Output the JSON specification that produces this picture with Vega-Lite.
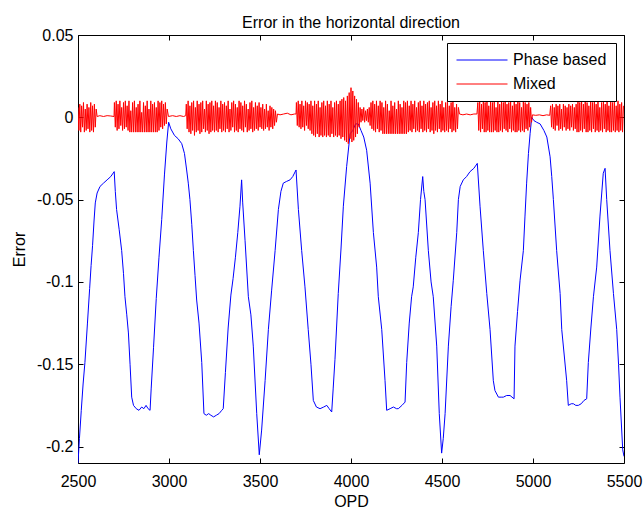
{
  "$schema": "https://vega.github.io/schema/vega-lite/v6.json",
  "width": 546,
  "height": 428,
  "autosize": {"type": "none"},
  "padding": {"left": 78, "top": 35, "right": 20, "bottom": 45},
  "background": "white",
  "title": {"text": "Error in the horizontal direction", "font": "Liberation Sans", "fontSize": 16, "fontWeight": "normal", "color": "black", "offset": -4},
  "config": {
    "font": "Liberation Sans",
    "view": {"stroke": "black", "strokeWidth": 1},
    "axis": {"grid": false, "domain": false, "tickColor": "black", "tickSize": -5, "tickWidth": 1, "labelColor": "black", "labelFont": "Liberation Sans", "labelFontSize": 16, "titleFont": "Liberation Sans", "titleFontSize": 16, "titleFontWeight": "normal", "titleColor": "black", "labelPadding": 10}
  },
  "datasets": {
    "phase": [
      {"opd":2500,"err":-0.21},{"opd":2508,"err":-0.195},{"opd":2518,"err":-0.178},{"opd":2528,"err":-0.162},{"opd":2538,"err":-0.149},{"opd":2552,"err":-0.125},{"opd":2564,"err":-0.104},{"opd":2572,"err":-0.09},{"opd":2580,"err":-0.078},{"opd":2588,"err":-0.063},{"opd":2595,"err":-0.052},{"opd":2605,"err":-0.046},{"opd":2621,"err":-0.042},{"opd":2640,"err":-0.04},{"opd":2660,"err":-0.038},{"opd":2680,"err":-0.036},{"opd":2699,"err":-0.033},{"opd":2705,"err":-0.045},{"opd":2712,"err":-0.056},{"opd":2726,"err":-0.068},{"opd":2740,"err":-0.081},{"opd":2750,"err":-0.095},{"opd":2758,"err":-0.109},{"opd":2768,"err":-0.12},{"opd":2777,"err":-0.131},{"opd":2786,"err":-0.15},{"opd":2795,"err":-0.17},{"opd":2805,"err":-0.175},{"opd":2820,"err":-0.177},{"opd":2835,"err":-0.178},{"opd":2850,"err":-0.176},{"opd":2862,"err":-0.177},{"opd":2874,"err":-0.175},{"opd":2885,"err":-0.177},{"opd":2896,"err":-0.178},{"opd":2902,"err":-0.165},{"opd":2915,"err":-0.14},{"opd":2930,"err":-0.11},{"opd":2945,"err":-0.085},{"opd":2960,"err":-0.062},{"opd":2975,"err":-0.035},{"opd":2988,"err":-0.015},{"opd":2998,"err":-0.003},{"opd":3010,"err":-0.007},{"opd":3030,"err":-0.011},{"opd":3050,"err":-0.013},{"opd":3070,"err":-0.016},{"opd":3085,"err":-0.022},{"opd":3097,"err":-0.032},{"opd":3106,"err":-0.04},{"opd":3115,"err":-0.05},{"opd":3125,"err":-0.065},{"opd":3134,"err":-0.081},{"opd":3143,"err":-0.096},{"opd":3152,"err":-0.111},{"opd":3165,"err":-0.125},{"opd":3180,"err":-0.149},{"opd":3192,"err":-0.18},{"opd":3205,"err":-0.181},{"opd":3218,"err":-0.18},{"opd":3230,"err":-0.181},{"opd":3245,"err":-0.182},{"opd":3260,"err":-0.181},{"opd":3275,"err":-0.18},{"opd":3290,"err":-0.178},{"opd":3298,"err":-0.177},{"opd":3310,"err":-0.155},{"opd":3325,"err":-0.128},{"opd":3340,"err":-0.108},{"opd":3352,"err":-0.098},{"opd":3365,"err":-0.085},{"opd":3378,"err":-0.07},{"opd":3390,"err":-0.054},{"opd":3399,"err":-0.038},{"opd":3405,"err":-0.052},{"opd":3418,"err":-0.075},{"opd":3436,"err":-0.109},{"opd":3450,"err":-0.12},{"opd":3463,"err":-0.139},{"opd":3482,"err":-0.18},{"opd":3496,"err":-0.205},{"opd":3509,"err":-0.19},{"opd":3528,"err":-0.16},{"opd":3546,"err":-0.129},{"opd":3564,"err":-0.105},{"opd":3583,"err":-0.081},{"opd":3601,"err":-0.056},{"opd":3615,"err":-0.045},{"opd":3628,"err":-0.04},{"opd":3645,"err":-0.039},{"opd":3665,"err":-0.038},{"opd":3680,"err":-0.036},{"opd":3698,"err":-0.032},{"opd":3711,"err":-0.056},{"opd":3729,"err":-0.081},{"opd":3747,"err":-0.103},{"opd":3765,"err":-0.129},{"opd":3780,"err":-0.15},{"opd":3793,"err":-0.172},{"opd":3810,"err":-0.176},{"opd":3830,"err":-0.177},{"opd":3850,"err":-0.176},{"opd":3867,"err":-0.175},{"opd":3880,"err":-0.177},{"opd":3894,"err":-0.179},{"opd":3902,"err":-0.165},{"opd":3912,"err":-0.147},{"opd":3930,"err":-0.107},{"opd":3945,"err":-0.08},{"opd":3958,"err":-0.054},{"opd":3976,"err":-0.03},{"opd":3995,"err":-0.01},{"opd":4010,"err":-0.008},{"opd":4025,"err":-0.004},{"opd":4040,"err":-0.004},{"opd":4055,"err":-0.008},{"opd":4070,"err":-0.012},{"opd":4086,"err":-0.02},{"opd":4105,"err":-0.04},{"opd":4123,"err":-0.07},{"opd":4141,"err":-0.091},{"opd":4150,"err":-0.109},{"opd":4169,"err":-0.129},{"opd":4187,"err":-0.16},{"opd":4196,"err":-0.178},{"opd":4215,"err":-0.177},{"opd":4233,"err":-0.176},{"opd":4250,"err":-0.177},{"opd":4260,"err":-0.177},{"opd":4280,"err":-0.175},{"opd":4297,"err":-0.173},{"opd":4306,"err":-0.149},{"opd":4320,"err":-0.125},{"opd":4333,"err":-0.109},{"opd":4342,"err":-0.103},{"opd":4356,"err":-0.085},{"opd":4370,"err":-0.07},{"opd":4382,"err":-0.05},{"opd":4394,"err":-0.036},{"opd":4400,"err":-0.045},{"opd":4407,"err":-0.05},{"opd":4425,"err":-0.081},{"opd":4440,"err":-0.1},{"opd":4452,"err":-0.109},{"opd":4471,"err":-0.139},{"opd":4485,"err":-0.18},{"opd":4498,"err":-0.204},{"opd":4507,"err":-0.195},{"opd":4517,"err":-0.18},{"opd":4535,"err":-0.139},{"opd":4550,"err":-0.115},{"opd":4562,"err":-0.099},{"opd":4581,"err":-0.07},{"opd":4590,"err":-0.05},{"opd":4600,"err":-0.042},{"opd":4617,"err":-0.038},{"opd":4635,"err":-0.036},{"opd":4654,"err":-0.033},{"opd":4675,"err":-0.031},{"opd":4694,"err":-0.028},{"opd":4709,"err":-0.054},{"opd":4727,"err":-0.081},{"opd":4746,"err":-0.107},{"opd":4764,"err":-0.129},{"opd":4782,"err":-0.16},{"opd":4791,"err":-0.166},{"opd":4810,"err":-0.17},{"opd":4825,"err":-0.17},{"opd":4837,"err":-0.17},{"opd":4855,"err":-0.169},{"opd":4874,"err":-0.169},{"opd":4896,"err":-0.171},{"opd":4901,"err":-0.139},{"opd":4915,"err":-0.118},{"opd":4929,"err":-0.099},{"opd":4947,"err":-0.081},{"opd":4956,"err":-0.06},{"opd":4965,"err":-0.04},{"opd":4975,"err":-0.022},{"opd":4984,"err":-0.01},{"opd":4993,"err":0.0},{"opd":5005,"err":-0.002},{"opd":5020,"err":-0.003},{"opd":5039,"err":-0.004},{"opd":5060,"err":-0.008},{"opd":5076,"err":-0.012},{"opd":5094,"err":-0.024},{"opd":5103,"err":-0.036},{"opd":5112,"err":-0.05},{"opd":5130,"err":-0.081},{"opd":5149,"err":-0.107},{"opd":5158,"err":-0.129},{"opd":5172,"err":-0.145},{"opd":5185,"err":-0.16},{"opd":5194,"err":-0.175},{"opd":5210,"err":-0.174},{"opd":5222,"err":-0.174},{"opd":5235,"err":-0.175},{"opd":5249,"err":-0.175},{"opd":5265,"err":-0.174},{"opd":5280,"err":-0.172},{"opd":5295,"err":-0.171},{"opd":5304,"err":-0.149},{"opd":5318,"err":-0.128},{"opd":5332,"err":-0.109},{"opd":5350,"err":-0.091},{"opd":5368,"err":-0.06},{"opd":5386,"err":-0.034},{"opd":5396,"err":-0.031},{"opd":5405,"err":-0.05},{"opd":5423,"err":-0.081},{"opd":5442,"err":-0.107},{"opd":5460,"err":-0.129},{"opd":5470,"err":-0.15},{"opd":5478,"err":-0.17},{"opd":5493,"err":-0.202},{"opd":5500,"err":-0.206}
    ],
    "mixed": [
      {"opd":2500,"err":0.006},{"opd":2505,"err":-0.008},{"opd":2510,"err":0.008},{"opd":2515,"err":-0.009},{"opd":2520,"err":0.007},{"opd":2525,"err":-0.006},{"opd":2530,"err":0.009},{"opd":2535,"err":-0.009},{"opd":2540,"err":0.005},{"opd":2545,"err":-0.008},{"opd":2550,"err":0.008},{"opd":2555,"err":-0.007},{"opd":2560,"err":0.006},{"opd":2565,"err":-0.009},{"opd":2570,"err":0.009},{"opd":2575,"err":-0.008},{"opd":2580,"err":0.007},{"opd":2585,"err":-0.009},{"opd":2590,"err":0.008},{"opd":2595,"err":-0.006},{"opd":2600,"err":0.005},
      {"opd":2605,"err":0.0005},{"opd":2620,"err":0.001},{"opd":2640,"err":0.0005},{"opd":2660,"err":0.001},{"opd":2680,"err":0.0008},{"opd":2698,"err":0.0005},
      {"opd":2700,"err":0.009},{"opd":2705,"err":-0.006},{"opd":2710,"err":0.01},{"opd":2715,"err":-0.008},{"opd":2720,"err":0.008},{"opd":2725,"err":-0.007},{"opd":2730,"err":0.01},{"opd":2735,"err":-0.005},{"opd":2740,"err":0.006},{"opd":2745,"err":-0.008},{"opd":2750,"err":0.009},{"opd":2755,"err":-0.007},{"opd":2760,"err":0.01},{"opd":2765,"err":-0.006},{"opd":2770,"err":0.007},{"opd":2775,"err":-0.008},{"opd":2780,"err":0.01},{"opd":2785,"err":-0.009},{"opd":2790,"err":0.004},{"opd":2795,"err":-0.009},{"opd":2800,"err":0.009},{"opd":2805,"err":-0.009},{"opd":2810,"err":0.01},{"opd":2815,"err":-0.009},{"opd":2820,"err":0.006},{"opd":2825,"err":-0.009},{"opd":2830,"err":0.008},{"opd":2835,"err":-0.009},{"opd":2840,"err":0.01},{"opd":2845,"err":-0.009},{"opd":2850,"err":0.003},{"opd":2855,"err":-0.009},{"opd":2860,"err":0.009},{"opd":2865,"err":-0.009},{"opd":2870,"err":0.007},{"opd":2875,"err":-0.009},{"opd":2880,"err":0.01},{"opd":2885,"err":-0.009},{"opd":2890,"err":0.005},{"opd":2895,"err":-0.009},{"opd":2900,"err":0.01},{"opd":2905,"err":-0.009},{"opd":2910,"err":0.008},{"opd":2915,"err":-0.009},{"opd":2920,"err":0.009},{"opd":2925,"err":-0.009},{"opd":2930,"err":0.006},{"opd":2935,"err":-0.009},{"opd":2940,"err":0.01},{"opd":2945,"err":-0.008},{"opd":2950,"err":0.009},{"opd":2955,"err":-0.006},{"opd":2960,"err":0.01},{"opd":2965,"err":-0.007},{"opd":2970,"err":0.008},{"opd":2975,"err":-0.005},{"opd":2980,"err":0.009},{"opd":2985,"err":-0.004},{"opd":2990,"err":0.005},
      {"opd":2997,"err":0.0005},{"opd":3020,"err":0.001},{"opd":3040,"err":0.0005},{"opd":3060,"err":0.001},{"opd":3080,"err":0.0005},{"opd":3092,"err":0.001},
      {"opd":3095,"err":0.008},{"opd":3100,"err":-0.007},{"opd":3105,"err":0.01},{"opd":3110,"err":-0.009},{"opd":3115,"err":0.007},{"opd":3120,"err":-0.01},{"opd":3125,"err":0.009},{"opd":3130,"err":-0.008},{"opd":3135,"err":0.01},{"opd":3140,"err":-0.011},{"opd":3145,"err":0.006},{"opd":3150,"err":-0.009},{"opd":3155,"err":0.01},{"opd":3160,"err":-0.008},{"opd":3165,"err":0.008},{"opd":3170,"err":-0.01},{"opd":3175,"err":0.009},{"opd":3180,"err":-0.009},{"opd":3185,"err":0.01},{"opd":3190,"err":-0.007},{"opd":3195,"err":0.005},{"opd":3200,"err":-0.009},{"opd":3205,"err":0.01},{"opd":3210,"err":-0.008},{"opd":3215,"err":0.008},{"opd":3220,"err":-0.01},{"opd":3225,"err":0.009},{"opd":3230,"err":-0.009},{"opd":3235,"err":0.01},{"opd":3240,"err":-0.008},{"opd":3245,"err":0.007},{"opd":3250,"err":-0.009},{"opd":3255,"err":0.01},{"opd":3260,"err":-0.008},{"opd":3265,"err":0.009},{"opd":3270,"err":-0.009},{"opd":3275,"err":0.006},{"opd":3280,"err":-0.007},{"opd":3285,"err":0.01},{"opd":3290,"err":-0.009},{"opd":3295,"err":0.008},{"opd":3300,"err":-0.008},{"opd":3305,"err":0.009},{"opd":3310,"err":-0.009},{"opd":3315,"err":0.007},{"opd":3320,"err":-0.007},{"opd":3325,"err":0.01},{"opd":3330,"err":-0.009},{"opd":3335,"err":0.005},{"opd":3340,"err":-0.008},{"opd":3345,"err":0.009},{"opd":3350,"err":-0.006},{"opd":3355,"err":0.01},{"opd":3360,"err":-0.009},{"opd":3365,"err":0.008},{"opd":3370,"err":-0.008},{"opd":3375,"err":0.006},{"opd":3380,"err":-0.009},{"opd":3385,"err":0.01},{"opd":3390,"err":-0.007},{"opd":3395,"err":0.009},{"opd":3400,"err":-0.008},{"opd":3405,"err":0.007},{"opd":3410,"err":-0.009},{"opd":3415,"err":0.01},{"opd":3420,"err":-0.006},{"opd":3425,"err":0.008},{"opd":3430,"err":-0.009},{"opd":3435,"err":0.005},{"opd":3440,"err":-0.008},{"opd":3445,"err":0.009},{"opd":3450,"err":-0.007},{"opd":3455,"err":0.01},{"opd":3460,"err":-0.009},{"opd":3465,"err":0.006},{"opd":3470,"err":-0.008},{"opd":3475,"err":0.009},{"opd":3480,"err":-0.007},{"opd":3485,"err":0.007},{"opd":3490,"err":-0.008},{"opd":3495,"err":0.009},{"opd":3500,"err":-0.006},{"opd":3505,"err":0.006},{"opd":3510,"err":-0.007},{"opd":3515,"err":0.008},{"opd":3520,"err":-0.008},{"opd":3525,"err":0.005},{"opd":3530,"err":-0.007},{"opd":3535,"err":0.008},{"opd":3540,"err":-0.006},{"opd":3545,"err":0.004},{"opd":3550,"err":-0.008},{"opd":3555,"err":0.007},{"opd":3560,"err":-0.006},{"opd":3565,"err":0.006},{"opd":3570,"err":-0.007},{"opd":3575,"err":0.005},{"opd":3580,"err":-0.005},{"opd":3585,"err":0.004},{"opd":3590,"err":-0.003},
      {"opd":3596,"err":0.002},{"opd":3610,"err":0.0015},{"opd":3630,"err":0.002},{"opd":3650,"err":0.0025},{"opd":3670,"err":0.0015},{"opd":3690,"err":0.002},{"opd":3698,"err":0.002},
      {"opd":3700,"err":0.009},{"opd":3705,"err":-0.005},{"opd":3710,"err":0.01},{"opd":3715,"err":-0.006},{"opd":3720,"err":0.008},{"opd":3725,"err":-0.007},{"opd":3730,"err":0.01},{"opd":3735,"err":-0.006},{"opd":3740,"err":0.007},{"opd":3745,"err":-0.008},{"opd":3750,"err":0.01},{"opd":3755,"err":-0.005},{"opd":3760,"err":0.009},{"opd":3765,"err":-0.007},{"opd":3770,"err":0.008},{"opd":3775,"err":-0.008},{"opd":3780,"err":0.01},{"opd":3785,"err":-0.01},{"opd":3790,"err":0.007},{"opd":3795,"err":-0.011},{"opd":3800,"err":0.01},{"opd":3805,"err":-0.012},{"opd":3810,"err":0.008},{"opd":3815,"err":-0.01},{"opd":3820,"err":0.01},{"opd":3825,"err":-0.012},{"opd":3830,"err":0.006},{"opd":3835,"err":-0.011},{"opd":3840,"err":0.009},{"opd":3845,"err":-0.012},{"opd":3850,"err":0.01},{"opd":3855,"err":-0.011},{"opd":3860,"err":0.007},{"opd":3865,"err":-0.012},{"opd":3870,"err":0.01},{"opd":3875,"err":-0.011},{"opd":3880,"err":0.008},{"opd":3885,"err":-0.012},{"opd":3890,"err":0.01},{"opd":3895,"err":-0.01},{"opd":3900,"err":0.006},{"opd":3905,"err":-0.012},{"opd":3910,"err":0.009},{"opd":3915,"err":-0.011},{"opd":3920,"err":0.01},{"opd":3925,"err":-0.012},{"opd":3930,"err":0.008},{"opd":3935,"err":-0.011},{"opd":3940,"err":0.01},{"opd":3945,"err":-0.013},{"opd":3950,"err":0.011},{"opd":3955,"err":-0.012},{"opd":3960,"err":0.012},{"opd":3965,"err":-0.014},{"opd":3970,"err":0.01},{"opd":3975,"err":-0.015},{"opd":3980,"err":0.013},{"opd":3985,"err":-0.016},{"opd":3990,"err":0.015},{"opd":3995,"err":-0.013},{"opd":4000,"err":0.018},{"opd":4005,"err":-0.015},{"opd":4010,"err":0.016},{"opd":4015,"err":-0.014},{"opd":4020,"err":0.013},{"opd":4025,"err":-0.012},{"opd":4030,"err":0.011},{"opd":4035,"err":-0.01},{"opd":4040,"err":0.009},{"opd":4045,"err":-0.006},{"opd":4050,"err":0.006},{"opd":4055,"err":-0.003},{"opd":4060,"err":0.005},{"opd":4065,"err":-0.002},{"opd":4070,"err":0.006},{"opd":4075,"err":-0.003},{"opd":4080,"err":0.004},{"opd":4085,"err":-0.002},{"opd":4090,"err":0.005},{"opd":4095,"err":-0.003},{"opd":4100,"err":0.006},{"opd":4105,"err":-0.005},{"opd":4110,"err":0.009},{"opd":4115,"err":-0.007},{"opd":4120,"err":0.01},{"opd":4125,"err":-0.008},{"opd":4130,"err":0.008},{"opd":4135,"err":-0.009},{"opd":4140,"err":0.01},{"opd":4145,"err":-0.007},{"opd":4150,"err":0.007},{"opd":4155,"err":-0.009},{"opd":4160,"err":0.01},{"opd":4165,"err":-0.008},{"opd":4170,"err":0.009},{"opd":4175,"err":-0.01},{"opd":4180,"err":0.006},{"opd":4185,"err":-0.01},{"opd":4190,"err":0.01},{"opd":4195,"err":-0.01},{"opd":4200,"err":0.008},{"opd":4205,"err":-0.01},{"opd":4210,"err":0.004},{"opd":4215,"err":-0.01},{"opd":4220,"err":0.01},{"opd":4225,"err":-0.01},{"opd":4230,"err":0.007},{"opd":4235,"err":-0.01},{"opd":4240,"err":0.009},{"opd":4245,"err":-0.01},{"opd":4250,"err":0.005},{"opd":4255,"err":-0.01},{"opd":4260,"err":0.01},{"opd":4265,"err":-0.01},{"opd":4270,"err":0.008},{"opd":4275,"err":-0.01},{"opd":4280,"err":0.006},{"opd":4285,"err":-0.01},{"opd":4290,"err":0.01},{"opd":4295,"err":-0.01},{"opd":4300,"err":0.009},{"opd":4305,"err":-0.01},{"opd":4310,"err":0.01},{"opd":4315,"err":-0.009},{"opd":4320,"err":0.007},{"opd":4325,"err":-0.008},{"opd":4330,"err":0.01},{"opd":4335,"err":-0.009},{"opd":4340,"err":0.008},{"opd":4345,"err":-0.007},{"opd":4350,"err":0.01},{"opd":4355,"err":-0.009},{"opd":4360,"err":0.006},{"opd":4365,"err":-0.008},{"opd":4370,"err":0.009},{"opd":4375,"err":-0.009},{"opd":4380,"err":0.01},{"opd":4385,"err":-0.007},{"opd":4390,"err":0.007},{"opd":4395,"err":-0.009},{"opd":4400,"err":0.01},{"opd":4405,"err":-0.008},{"opd":4410,"err":0.008},{"opd":4415,"err":-0.009},{"opd":4420,"err":0.009},{"opd":4425,"err":-0.007},{"opd":4430,"err":0.01},{"opd":4435,"err":-0.009},{"opd":4440,"err":0.006},{"opd":4445,"err":-0.008},{"opd":4450,"err":0.009},{"opd":4455,"err":-0.01},{"opd":4460,"err":0.01},{"opd":4465,"err":-0.008},{"opd":4470,"err":0.007},{"opd":4475,"err":-0.009},{"opd":4480,"err":0.01},{"opd":4485,"err":-0.007},{"opd":4490,"err":0.008},{"opd":4495,"err":-0.009},{"opd":4500,"err":0.01},{"opd":4505,"err":-0.008},{"opd":4510,"err":0.006},{"opd":4515,"err":-0.009},{"opd":4520,"err":0.009},{"opd":4525,"err":-0.008},{"opd":4530,"err":0.01},{"opd":4535,"err":-0.009},{"opd":4540,"err":0.007},{"opd":4545,"err":-0.007},{"opd":4550,"err":0.009},{"opd":4555,"err":-0.009},{"opd":4560,"err":0.01},{"opd":4565,"err":-0.008},{"opd":4570,"err":0.006},{"opd":4575,"err":-0.009},{"opd":4580,"err":0.008},{"opd":4585,"err":-0.007},{"opd":4590,"err":0.006},
      {"opd":4596,"err":0.002},{"opd":4615,"err":0.0015},{"opd":4635,"err":0.002},{"opd":4655,"err":0.0015},{"opd":4675,"err":0.002},{"opd":4692,"err":0.002},
      {"opd":4697,"err":0.009},{"opd":4702,"err":-0.008},{"opd":4707,"err":0.01},{"opd":4712,"err":-0.009},{"opd":4717,"err":0.008},{"opd":4722,"err":-0.007},{"opd":4727,"err":0.01},{"opd":4732,"err":-0.009},{"opd":4737,"err":0.009},{"opd":4742,"err":-0.009},{"opd":4747,"err":0.01},{"opd":4752,"err":-0.008},{"opd":4757,"err":0.007},{"opd":4762,"err":-0.009},{"opd":4767,"err":0.01},{"opd":4772,"err":-0.009},{"opd":4777,"err":0.009},{"opd":4782,"err":-0.009},{"opd":4787,"err":0.01},{"opd":4792,"err":-0.008},{"opd":4797,"err":0.006},{"opd":4802,"err":-0.009},{"opd":4807,"err":0.01},{"opd":4812,"err":-0.009},{"opd":4817,"err":0.008},{"opd":4822,"err":-0.008},{"opd":4827,"err":0.01},{"opd":4832,"err":-0.009},{"opd":4837,"err":0.009},{"opd":4842,"err":-0.007},{"opd":4847,"err":0.01},{"opd":4852,"err":-0.008},{"opd":4857,"err":0.008},{"opd":4862,"err":-0.009},{"opd":4867,"err":0.009},{"opd":4872,"err":-0.007},{"opd":4877,"err":0.01},{"opd":4882,"err":-0.009},{"opd":4887,"err":0.007},{"opd":4892,"err":-0.008},{"opd":4897,"err":0.01},{"opd":4902,"err":-0.009},{"opd":4907,"err":0.008},{"opd":4912,"err":-0.009},{"opd":4917,"err":0.01},{"opd":4922,"err":-0.008},{"opd":4927,"err":0.009},{"opd":4932,"err":-0.009},{"opd":4937,"err":0.006},{"opd":4942,"err":-0.008},{"opd":4947,"err":0.01},{"opd":4952,"err":-0.009},{"opd":4957,"err":0.009},{"opd":4962,"err":-0.007},{"opd":4967,"err":0.008},{"opd":4972,"err":-0.008},{"opd":4977,"err":0.009},{"opd":4982,"err":-0.006},{"opd":4987,"err":0.006},{"opd":4992,"err":-0.003},
      {"opd":4997,"err":0.0015},{"opd":5015,"err":0.0012},{"opd":5035,"err":0.0015},{"opd":5055,"err":0.001},{"opd":5075,"err":0.0015},{"opd":5092,"err":0.0012},
      {"opd":5097,"err":0.007},{"opd":5102,"err":-0.006},{"opd":5107,"err":0.008},{"opd":5112,"err":-0.007},{"opd":5117,"err":0.006},{"opd":5122,"err":-0.008},{"opd":5127,"err":0.008},{"opd":5132,"err":-0.005},{"opd":5137,"err":0.007},{"opd":5142,"err":-0.008},{"opd":5147,"err":0.008},{"opd":5152,"err":-0.007},{"opd":5157,"err":0.005},{"opd":5162,"err":-0.008},{"opd":5167,"err":0.008},{"opd":5172,"err":-0.006},{"opd":5177,"err":0.007},{"opd":5182,"err":-0.008},{"opd":5187,"err":0.006},{"opd":5192,"err":-0.007},{"opd":5197,"err":0.008},{"opd":5202,"err":-0.008},{"opd":5207,"err":0.007},{"opd":5212,"err":-0.006},{"opd":5217,"err":0.008},{"opd":5222,"err":-0.008},{"opd":5227,"err":0.006},{"opd":5232,"err":-0.007},{"opd":5237,"err":0.008},{"opd":5242,"err":-0.009},{"opd":5247,"err":0.01},{"opd":5252,"err":-0.009},{"opd":5257,"err":0.009},{"opd":5262,"err":-0.008},{"opd":5267,"err":0.01},{"opd":5272,"err":-0.009},{"opd":5277,"err":0.008},{"opd":5282,"err":-0.007},{"opd":5287,"err":0.01},{"opd":5292,"err":-0.009},{"opd":5297,"err":0.009},{"opd":5302,"err":-0.009},{"opd":5307,"err":0.007},{"opd":5312,"err":-0.008},{"opd":5317,"err":0.01},{"opd":5322,"err":-0.009},{"opd":5327,"err":0.009},{"opd":5332,"err":-0.007},{"opd":5337,"err":0.01},{"opd":5342,"err":-0.009},{"opd":5347,"err":0.008},{"opd":5352,"err":-0.008},{"opd":5357,"err":0.01},{"opd":5362,"err":-0.009},{"opd":5367,"err":0.006},{"opd":5372,"err":-0.008},{"opd":5377,"err":0.009},{"opd":5382,"err":-0.009},{"opd":5387,"err":0.01},{"opd":5392,"err":-0.007},{"opd":5397,"err":0.008},{"opd":5402,"err":-0.009},{"opd":5407,"err":0.01},{"opd":5412,"err":-0.008},{"opd":5417,"err":0.007},{"opd":5422,"err":-0.009},{"opd":5427,"err":0.01},{"opd":5432,"err":-0.009},{"opd":5437,"err":0.009},{"opd":5442,"err":-0.008},{"opd":5447,"err":0.01},{"opd":5452,"err":-0.009},{"opd":5457,"err":0.007},{"opd":5462,"err":-0.008},{"opd":5467,"err":0.01},{"opd":5472,"err":-0.009},{"opd":5477,"err":0.008},{"opd":5482,"err":-0.008},{"opd":5487,"err":0.009},{"opd":5492,"err":-0.009},{"opd":5497,"err":0.007}
    ]
  },
  "layer": [
    {
      "data": {"name": "phase"},
      "mark": {"type": "line", "strokeWidth": 1, "clip": true},
      "encoding": {
        "x": {"field": "opd", "type": "quantitative", "scale": {"domain": [2500, 5500], "nice": false, "zero": false},
              "axis": {"orient": "bottom", "values": [2500, 3000, 3500, 4000, 4500, 5000, 5500], "format": "d", "labelFlush": false, "labelOverlap": false, "labelPadding": 15, "title": "OPD", "titlePadding": 4}},
        "y": {"field": "err", "type": "quantitative", "scale": {"domain": [-0.21, 0.05], "nice": false, "zero": false},
              "axis": {"orient": "left", "values": [-0.2, -0.15, -0.1, -0.05, 0, 0.05], "labelExpr": "'' + datum.value", "labelFlush": false, "labelOverlap": false, "title": "Error", "titlePadding": 9}},
        "color": {"datum": "Phase based", "type": "nominal",
                  "scale": {"domain": ["Phase based", "Mixed"], "range": ["#0000ff", "#ff0000"]},
                  "legend": {"orient": "none", "legendX": 369, "legendY": 8, "title": null, "direction": "vertical",
                             "symbolType": "stroke", "symbolSize": 2601, "symbolStrokeWidth": 1, "clipHeight": 16,
                             "labelFont": "Liberation Sans", "labelFontSize": 16, "labelColor": "black", "labelOffset": 5,
                             "strokeColor": "black", "fillColor": "white", "padding": 9, "rowPadding": 8}}
      }
    },
    {
      "data": {"name": "mixed"},
      "mark": {"type": "line", "strokeWidth": 1, "clip": true},
      "encoding": {
        "x": {"field": "opd", "type": "quantitative",
              "axis": {"orient": "top", "values": [2500, 3000, 3500, 4000, 4500, 5000, 5500], "labels": false, "title": null}},
        "y": {"field": "err", "type": "quantitative",
              "axis": {"orient": "right", "values": [-0.2, -0.15, -0.1, -0.05, 0, 0.05], "labels": false, "title": null}},
        "color": {"datum": "Mixed", "type": "nominal"}
      }
    }
  ],
  "resolve": {"axis": {"x": "independent", "y": "independent"}}
}
